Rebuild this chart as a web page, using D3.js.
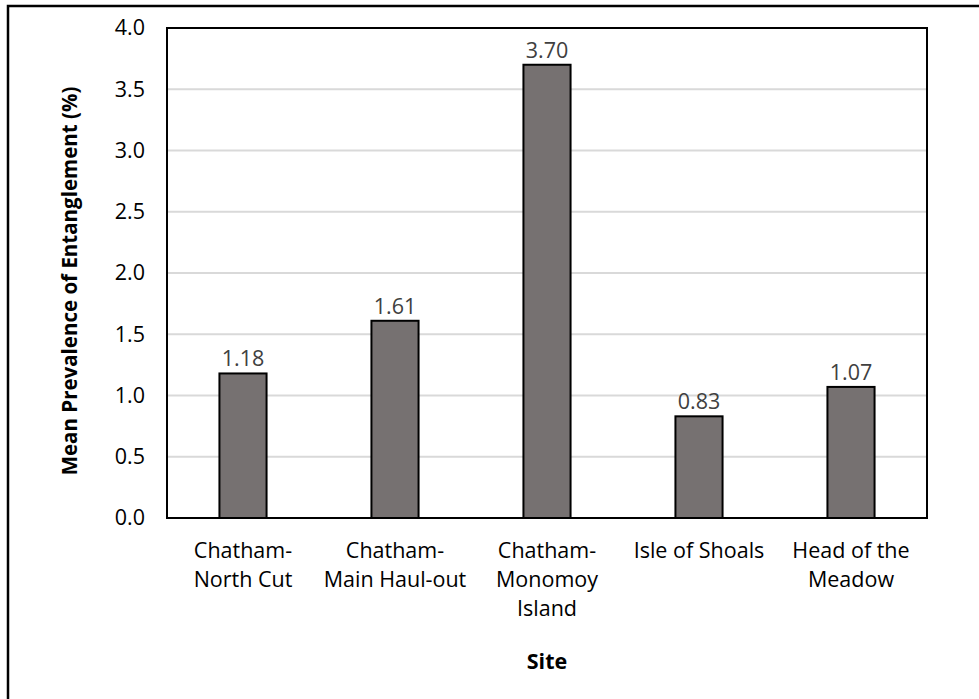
<!DOCTYPE html>
<html>
<head>
<meta charset="utf-8">
<script src="https://cdn.jsdelivr.net/npm/d3@7"></script>
<style>
  html, body { margin: 0; padding: 0; background: #fff; }
  svg { display: block; }
</style>
</head>
<body>
<svg id="chart" width="979" height="699"></svg>
<script>
// Site names (each split into display lines), mean prevalence values, y ticks
const sites = [
  ["Chatham-", "North Cut"],
  ["Chatham-", "Main Haul-out"],
  ["Chatham-", "Monomoy", "Island"],
  ["Isle of Shoals"],
  ["Head of the", "Meadow"]
];
const prevalence = [1.18, 1.61, 3.70, 0.83, 1.07];
const yTicks = [0, 0.5, 1.0, 1.5, 2.0, 2.5, 3.0, 3.5, 4.0];

const FONT = "'Open Sans', sans-serif";
const svg = d3.select("#chart");

const plot = { left: 167, right: 927, top: 28, bottom: 518 };

// Outer chart frame (runs off the right and bottom edges)
svg.append("rect")
  .attr("x", 8).attr("y", 6)
  .attr("width", 1200).attr("height", 1200)
  .attr("fill", "#fff")
  .attr("stroke", "#000").attr("stroke-width", 2.5);

const keys = sites.map((d, i) => i);
const x = d3.scaleBand()
  .domain(keys)
  .range([plot.left, plot.right])
  .paddingInner(0.69)
  .paddingOuter(0.345);

const y = d3.scaleLinear()
  .domain([0, 4])
  .range([plot.bottom, plot.top]);

// Horizontal gridlines
svg.append("g")
  .selectAll("line")
  .data(yTicks.filter(t => t > 0 && t < 4))
  .join("line")
  .attr("x1", plot.left).attr("x2", plot.right)
  .attr("y1", d => y(d)).attr("y2", d => y(d))
  .attr("stroke", "#d9d9d9").attr("stroke-width", 2);

// Y axis tick labels
const yAxis = d3.axisLeft(y)
  .tickValues(yTicks)
  .tickFormat(d3.format(".1f"))
  .tickSize(0)
  .tickPadding(22);
const gy = svg.append("g")
  .attr("transform", `translate(${plot.left},0)`)
  .call(yAxis);
gy.select(".domain").remove();
gy.selectAll("text")
  .attr("font-family", FONT)
  .attr("font-size", 21.5)
  .attr("fill", "#000");

// Bars
svg.append("g")
  .selectAll("rect")
  .data(prevalence)
  .join("rect")
  .attr("x", (d, i) => x(i))
  .attr("y", d => y(d))
  .attr("width", x.bandwidth())
  .attr("height", d => y(0) - y(d))
  .attr("fill", "#767171")
  .attr("stroke", "#000")
  .attr("stroke-width", 2);

// Value labels
svg.append("g")
  .selectAll("text")
  .data(prevalence)
  .join("text")
  .attr("x", (d, i) => x(i) + x.bandwidth() / 2)
  .attr("y", d => y(d) - 7)
  .attr("text-anchor", "middle")
  .attr("font-family", FONT)
  .attr("font-size", 21.5)
  .attr("fill", "#404040")
  .text(d => d.toFixed(2));

// Plot area border
svg.append("rect")
  .attr("x", plot.left).attr("y", plot.top)
  .attr("width", plot.right - plot.left)
  .attr("height", plot.bottom - plot.top)
  .attr("fill", "none")
  .attr("stroke", "#000").attr("stroke-width", 2);

// Category labels
const xLabels = svg.append("g")
  .selectAll("text")
  .data(sites)
  .join("text")
  .attr("x", (d, i) => x(i) + x.bandwidth() / 2)
  .attr("y", 558)
  .attr("text-anchor", "middle")
  .attr("font-family", FONT)
  .attr("font-size", 21.5)
  .attr("fill", "#000");
xLabels.each(function(lines, i) {
  d3.select(this).selectAll("tspan")
    .data(lines)
    .join("tspan")
    .attr("x", x(i) + x.bandwidth() / 2)
    .attr("dy", (l, j) => j === 0 ? 0 : 29)
    .text(l => l);
});

// Axis titles
svg.append("text")
  .attr("transform", `translate(77,${(plot.top + plot.bottom) / 2 + 8}) rotate(-90)`)
  .attr("text-anchor", "middle")
  .attr("font-family", FONT)
  .attr("font-size", 20.5)
  .attr("font-weight", "bold")
  .attr("fill", "#000")
  .text("Mean Prevalence of Entanglement (%)");

svg.append("text")
  .attr("x", (plot.left + plot.right) / 2)
  .attr("y", 669)
  .attr("text-anchor", "middle")
  .attr("font-family", FONT)
  .attr("font-size", 21.5)
  .attr("font-weight", "bold")
  .attr("fill", "#000")
  .text("Site");
</script>
</body>
</html>
